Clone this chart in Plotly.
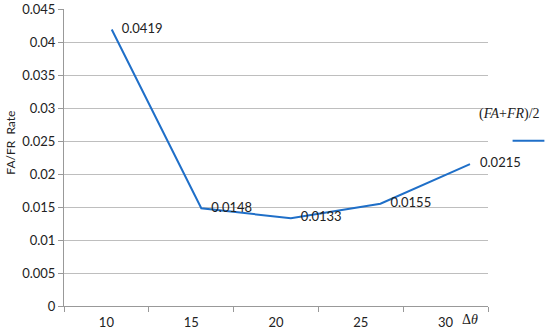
import plotly.graph_objects as go

# Data
delta_theta = ["10", "15", "20", "25", "30"]
rate = [0.0419, 0.0148, 0.0133, 0.0155, 0.0215]
rate_labels = ["0.0419", "0.0148", "0.0133", "0.0155", "0.0215"]
y_ticks = [0, 0.005, 0.01, 0.015, 0.02, 0.025, 0.03, 0.035, 0.04, 0.045]
y_tick_text = ["0", "0.005", "0.01", "0.015", "0.02", "0.025", "0.03", "0.035", "0.04", "0.045"]

LINE_BLUE = "#1F6FC8"
GRID = "#BEBEBE"
FONT = "Lato"

fig = go.Figure()

# the line in the original sits on its own, slightly wider category spacing
fig.add_trace(go.Scatter(
    x=delta_theta, y=rate, mode="lines+text", xaxis="x2",
    text=["   " + t for t in rate_labels], textposition="middle right",
    textfont=dict(family=FONT, size=13, color="#222"),
    line=dict(color=LINE_BLUE, width=2),
    showlegend=False, cliponaxis=False,
))
# invisible trace to give the visible category axis its ticks
fig.add_trace(go.Scatter(
    x=delta_theta, y=rate, mode="none", showlegend=False, hoverinfo="skip",
))

fig.update_layout(xaxis2=dict(
    type="category", overlaying="x", range=[-0.533, 4.201], visible=False,
))

fig.update_xaxes(
    selector=dict(anchor="y"),
)
fig.layout.xaxis.update(
    type="category", range=[-0.5, 4.5], automargin=False,
    showline=True, linecolor="#999", linewidth=1,
    ticks="outside", tickson="boundaries", ticklen=5, tickcolor="#999",
    ticklabelstandoff=4,
    showgrid=False, tickfont=dict(family=FONT, size=13, color="#222"),
)
fig.update_yaxes(
    range=[0, 0.045], tickvals=y_ticks, ticktext=y_tick_text, automargin=False,
    showline=True, linecolor="#999", linewidth=1,
    ticks="outside", ticklen=5, tickcolor="#999",
    showgrid=True, gridcolor=GRID, gridwidth=1, zeroline=False,
    tickfont=dict(family=FONT, size=13, color="#222"),
)

# y axis title placed by hand
fig.add_annotation(
    xref="paper", yref="paper", x=-0.125, y=0.55, xanchor="center", yanchor="middle",
    text="FA/FR  Rate", textangle=-90, showarrow=False,
    font=dict(family=FONT, size=12, color="#222"),
)

# Legend drawn by hand: label above, line sample below
fig.add_annotation(
    xref="paper", yref="paper", x=0.975, y=0.648, xanchor="left", yanchor="middle",
    text="(<i>FA</i>+<i>FR</i>)/2", showarrow=False,
    font=dict(family="Liberation Serif", size=14, color="#222"),
)
fig.add_shape(
    type="line", xref="paper", yref="paper", x0=1.058, x1=1.133, y0=0.556, y1=0.556,
    line=dict(color=LINE_BLUE, width=2),
)

# x axis name at the right end
fig.add_annotation(
    xref="paper", yref="paper", x=0.935, y=-0.015, xanchor="left", yanchor="top",
    text="Δ<i>θ</i>", showarrow=False,
    font=dict(family="Liberation Serif", size=14, color="#222"),
)

fig.update_layout(
    width=550, height=335,
    margin=dict(l=64, r=62, t=9, b=29),
    plot_bgcolor="white", paper_bgcolor="white",
    font=dict(family=FONT),
)

fig.write_html("out.html", config={"displayModeBar": False},
               post_script="document.body.style.margin='0';")
